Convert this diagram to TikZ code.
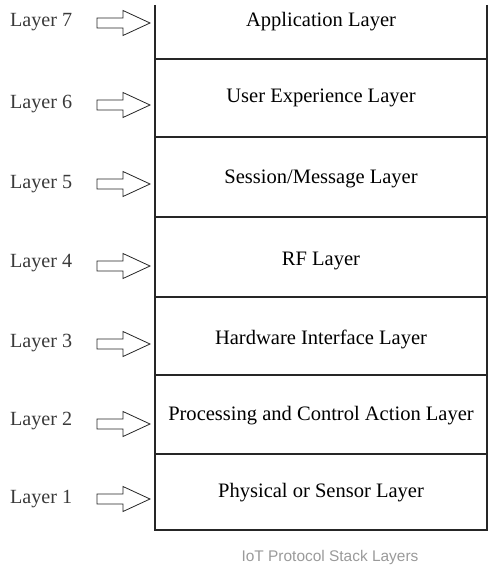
\documentclass[tikz,border=0pt]{standalone}
\usepackage{fontspec}
\setmainfont{Liberation Serif}
\newfontfamily\captionfont{Liberation Sans}
\definecolor{framegray}{HTML}{262626}
\definecolor{labelgray}{HTML}{3A3A3A}
\definecolor{captiongray}{HTML}{9A9A9A}
\begin{document}
\begin{tikzpicture}[x=1bp,y=-1bp,
  rowbox/.style={draw=framegray, line width=1.4bp, rectangle, minimum width=332bp,
    inner sep=0, outer sep=0, anchor=north west},
  rowtext/.style={font=\fontsize{20.6}{23}\selectfont, text=black, anchor=base, inner sep=0},
  layerlabel/.style={font=\fontsize{20.2}{23}\selectfont, text=labelgray, anchor=base west, inner sep=0},
  blockarrow/.style={draw=framegray, line width=0.8bp, line join=miter, fill=white}]
\useasboundingbox (0,0) rectangle (490,577);

% layer rows of the stack (top row has open top edge)
\node[rectangle, minimum width=332bp, minimum height=54bp, inner sep=0, outer sep=0, anchor=north west] (row7) at (155,5) {};
\draw[framegray, line width=1.4bp] (row7.north west) -- (row7.south west) (row7.north east) -- (row7.south east);
\node[rowbox, minimum height=78bp] (row6) at (155,59) {};
\node[rowbox, minimum height=80bp] (row5) at (155,137) {};
\node[rowbox, minimum height=80bp] (row4) at (155,217) {};
\node[rowbox, minimum height=78bp] (row3) at (155,297) {};
\node[rowbox, minimum height=79bp] (row2) at (155,375) {};
\node[rowbox, minimum height=76bp] (row1) at (155,454) {};

% row titles
\node[rowtext] (t7) at (321,27) {Application Layer};
\node[rowtext] (t6) at (321,103) {User Experience Layer};
\node[rowtext] (t5) at (321,183) {Session/Message Layer};
\node[rowtext] (t4) at (321,265) {RF Layer};
\node[rowtext] (t3) at (321,344) {Hardware Interface Layer};
\node[rowtext] (t2) at (321,420) {Processing and Control Action Layer};
\node[rowtext] (t1) at (321,497) {Physical or Sensor Layer};

% layer labels
\node[layerlabel] (l7) at (10,27) {Layer 7};
\node[layerlabel] (l6) at (10,109) {Layer 6};
\node[layerlabel] (l5) at (10,188) {Layer 5};
\node[layerlabel] (l4) at (10,267) {Layer 4};
\node[layerlabel] (l3) at (10,347) {Layer 3};
\node[layerlabel] (l2) at (10,425) {Layer 2};
\node[layerlabel] (l1) at (10,503) {Layer 1};

% block arrows pointing at the stack
\foreach \n/\y in {7/23,6/105,5/184,4/266,3/344,2/424,1/499}{
  \coordinate (tip\n) at (150,\y);
  \draw[blockarrow] (tip\n) -- ++(-27,-12.5) -- ++(0,7.5) -- ++(-26,0) -- ++(0,10)
    -- ++(26,0) -- ++(0,7.5) -- cycle;
}

% caption
\node[font=\captionfont\fontsize{15.5}{18}\selectfont, text=captiongray, anchor=center, inner sep=0] (cap) at (330,558) {IoT Protocol Stack Layers};
\end{tikzpicture}
\end{document}
